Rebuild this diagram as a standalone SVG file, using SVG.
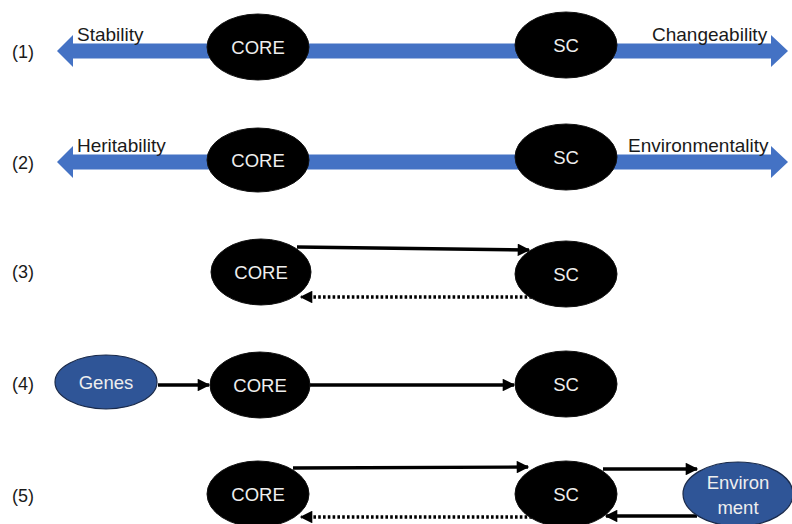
<svg xmlns="http://www.w3.org/2000/svg" width="792" height="524" viewBox="0 0 792 524">
<defs>
<style>
.lbl{font-family:"Liberation Sans",Arial,sans-serif;font-size:19px;fill:#1a1a1a}
.num{font-family:"Liberation Sans",Arial,sans-serif;font-size:18px;fill:#1a1a1a}
.nt{font-family:"Liberation Sans",Arial,sans-serif;font-size:18.5px;fill:#eeeeee;text-anchor:middle}
.blk{fill:#000;stroke:#111;stroke-width:1}
.blu{fill:#2f5597;stroke:#1a2a4a;stroke-width:1.2}
.ax{fill:#4472c4}
.c{stroke:#000;stroke-width:3.3;fill:none}
.d{stroke:#000;stroke-width:3.3;fill:none;stroke-dasharray:2.6 2.2}
</style>
<marker id="ah" viewBox="0 0 10 10" refX="9" refY="5" markerWidth="4.2" markerHeight="3.8" orient="auto" markerUnits="strokeWidth">
<path d="M0,0 L10,5 L0,10 Z" fill="#000"/>
</marker>
</defs>
<rect width="792" height="524" fill="#fff"/>

<g id="row-numbers">
<text class="num" x="12" y="58">(1)</text>
<text class="num" x="12" y="169">(2)</text>
<text class="num" x="12" y="278">(3)</text>
<text class="num" x="12" y="390">(4)</text>
<text class="num" x="12" y="502">(5)</text>
</g>

<g id="connectors">
<polygon id="axis1" class="ax" points="57,51 73,35 73,43.5 771,43.5 771,35 788,51 771,67 771,58.5 73,58.5 73,67"/>
<polygon id="axis2" class="ax" points="57,162 73,146 73,154.5 771,154.5 771,146 788,162 771,178 771,169.5 73,169.5 73,178"/>
<line class="c" x1="297" y1="247" x2="529" y2="250" marker-end="url(#ah)"/>
<line class="d" x1="532" y1="297" x2="301" y2="297" marker-end="url(#ah)"/>
<line class="c" x1="158" y1="385" x2="209" y2="385" marker-end="url(#ah)"/>
<line class="c" x1="310" y1="385" x2="514" y2="385" marker-end="url(#ah)"/>
<line class="c" x1="293" y1="468" x2="528" y2="467" marker-end="url(#ah)"/>
<line class="d" x1="532" y1="517" x2="301" y2="517" marker-end="url(#ah)"/>
<line class="c" x1="603" y1="469" x2="697" y2="469" marker-end="url(#ah)"/>
<line class="c" x1="697" y1="516" x2="606" y2="516" marker-end="url(#ah)"/>
</g>

<g id="axis-labels">
<text class="lbl" x="77" y="41">Stability</text>
<text class="lbl" x="652" y="41">Changeability</text>
<text class="lbl" x="77" y="152">Heritability</text>
<text class="lbl" x="628" y="152">Environmentality</text>
</g>

<g id="core1"><ellipse class="blk" cx="258" cy="47" rx="51" ry="33"/><text class="nt" x="258" y="54">CORE</text></g>
<g id="sc1"><ellipse class="blk" cx="566" cy="45" rx="51" ry="33"/><text class="nt" x="566" y="52">SC</text></g>
<g id="core2"><ellipse class="blk" cx="258" cy="160" rx="51" ry="32"/><text class="nt" x="258" y="167">CORE</text></g>
<g id="sc2"><ellipse class="blk" cx="566" cy="157" rx="51" ry="33"/><text class="nt" x="566" y="164">SC</text></g>
<g id="core3"><ellipse class="blk" cx="261" cy="272" rx="50" ry="33"/><text class="nt" x="261" y="279">CORE</text></g>
<g id="sc3"><ellipse class="blk" cx="566" cy="274" rx="51" ry="33"/><text class="nt" x="566" y="281">SC</text></g>
<g id="genes"><ellipse class="blu" cx="106" cy="382" rx="51" ry="27"/><text class="nt" x="106" y="389">Genes</text></g>
<g id="core4"><ellipse class="blk" cx="260" cy="385" rx="50" ry="33"/><text class="nt" x="260" y="392">CORE</text></g>
<g id="sc4"><ellipse class="blk" cx="566" cy="384" rx="51" ry="33"/><text class="nt" x="566" y="391">SC</text></g>
<g id="core5"><ellipse class="blk" cx="258" cy="494" rx="51" ry="33"/><text class="nt" x="258" y="501">CORE</text></g>
<g id="sc5"><ellipse class="blk" cx="566" cy="494" rx="51" ry="33"/><text class="nt" x="566" y="501">SC</text></g>
<g id="environment"><ellipse class="blu" cx="738" cy="494" rx="55" ry="32"/><text class="nt" x="738" y="489">Environ</text><text class="nt" x="738" y="514">ment</text></g>
</svg>
